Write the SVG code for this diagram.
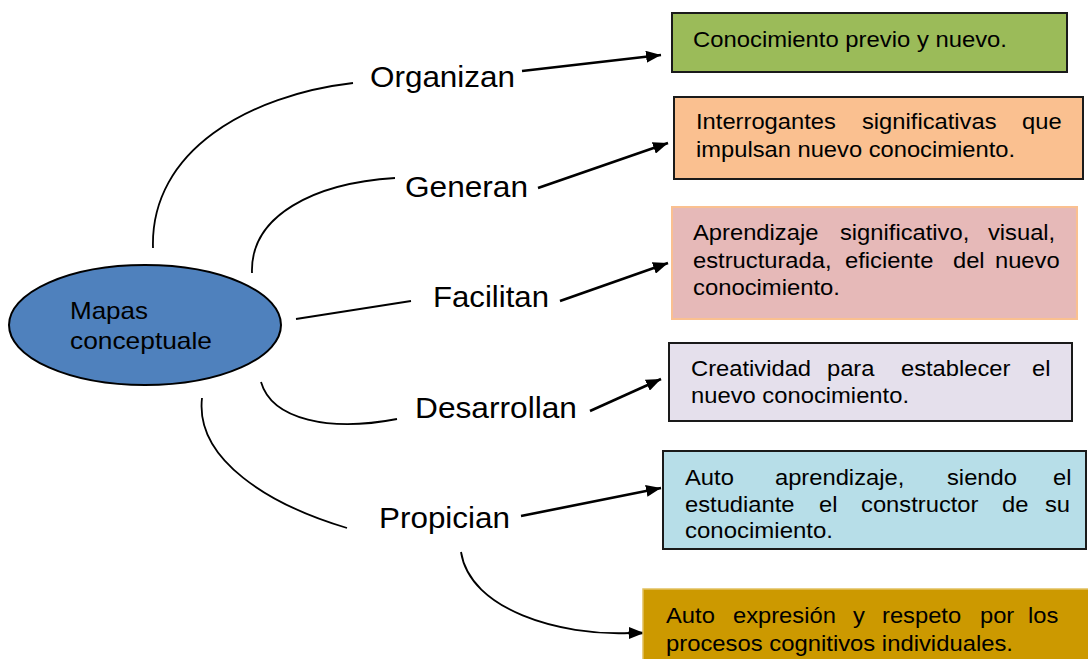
<svg xmlns="http://www.w3.org/2000/svg" width="1088" height="659" viewBox="0 0 1088 659">
<style>
.bg{fill:#ffffff}
.lbl{font-family:"Liberation Sans",Arial,sans-serif;font-size:30px;fill:#000}
.bt{font-family:"Liberation Sans",Arial,sans-serif;font-size:22px;fill:#000}
.ct{font-family:"Liberation Sans",Arial,sans-serif;font-size:24px;fill:#000}
.box{stroke:#1a1a1a;stroke-width:2}
.curve{fill:none;stroke:#000;stroke-width:1.8}
.arr{fill:none;stroke:#000;stroke-width:2.6;marker-end:url(#ah)}
</style>
<defs>
<marker id="ah" markerUnits="userSpaceOnUse" markerWidth="16" markerHeight="12" refX="15" refY="6" orient="auto">
<path d="M0,0 L15,6 L0,12 z" fill="#000"/>
</marker>
</defs>
<rect class="bg" x="0" y="0" width="1088" height="659"/>

<g id="connectors">
<path class="curve" d="M153,248 C150,150 250,95 353,83"/>
<path class="arr" d="M522,71 L661,55"/>
<path class="curve" d="M252,273 C250,215 315,183 395,178"/>
<path class="arr" d="M538,188 L668,143"/>
<path class="curve" d="M296,319 L411,301"/>
<path class="arr" d="M560,301 L668,263"/>
<path class="curve" d="M261,382 C272,420 330,432 397,419"/>
<path class="arr" d="M590,411 L661,379"/>
<path class="curve" d="M202,398 C195,460 270,505 347,528"/>
<path class="arr" d="M521,516 L661,488"/>
<path class="curve" d="M461,552 C470,610 560,636 630,633"/>
<path class="arr" d="M628,633 L644,633"/>
</g>

<g id="center">
<ellipse cx="145" cy="325" rx="136" ry="60" fill="#4F81BD" stroke="#000" stroke-width="2"/>
<text class="ct" x="70" y="319" textLength="78" lengthAdjust="spacingAndGlyphs">Mapas</text>
<text class="ct" x="70" y="349" textLength="142" lengthAdjust="spacingAndGlyphs">conceptuale</text>
</g>

<g id="lbl-organizan"><text class="lbl" x="370" y="87" textLength="145" lengthAdjust="spacingAndGlyphs">Organizan</text></g>
<g id="lbl-generan"><text class="lbl" x="405" y="197" textLength="123" lengthAdjust="spacingAndGlyphs">Generan</text></g>
<g id="lbl-facilitan"><text class="lbl" x="433" y="307" textLength="116" lengthAdjust="spacingAndGlyphs">Facilitan</text></g>
<g id="lbl-desarrollan"><text class="lbl" x="415" y="418" textLength="162" lengthAdjust="spacingAndGlyphs">Desarrollan</text></g>
<g id="lbl-propician"><text class="lbl" x="379" y="528" textLength="131" lengthAdjust="spacingAndGlyphs">Propician</text></g>

<g id="box1">
<rect class="box" x="672" y="13" width="395" height="59" fill="#9BBB59"/>
<text class="bt" x="693" y="47" textLength="314" lengthAdjust="spacingAndGlyphs">Conocimiento previo y nuevo.</text>
</g>

<g id="box2">
<rect class="box" x="674" y="97" width="409" height="82" fill="#FAC090"/>
<text class="bt" transform="translate(696,129) scale(1.08,1)"><tspan x="0">Interrogantes</tspan><tspan x="153.7">significativas</tspan><tspan x="301.9">que</tspan></text>
<text class="bt" x="696" y="157" textLength="319" lengthAdjust="spacingAndGlyphs">impulsan nuevo conocimiento.</text>
</g>

<g id="box3">
<rect x="672" y="207" width="405" height="112" fill="#E6B9B8" stroke="#FAC090" stroke-width="2"/>
<text class="bt" transform="translate(693,240) scale(1.08,1)"><tspan x="0">Aprendizaje</tspan><tspan x="136.1">significativo,</tspan><tspan x="273.1">visual,</tspan></text>
<text class="bt" transform="translate(693,268) scale(1.08,1)"><tspan x="0">estructurada,</tspan><tspan x="140.7">eficiente</tspan><tspan x="240.7">del</tspan><tspan x="279.6">nuevo</tspan></text>
<text class="bt" x="693" y="295" textLength="147" lengthAdjust="spacingAndGlyphs">conocimiento.</text>
</g>

<g id="box4">
<rect class="box" x="669" y="343" width="403" height="78" fill="#E5E0EC"/>
<text class="bt" transform="translate(691,376) scale(1.08,1)"><tspan x="0">Creatividad</tspan><tspan x="125.9">para</tspan><tspan x="194.4">establecer</tspan><tspan x="315.7">el</tspan></text>
<text class="bt" x="691" y="403" textLength="218" lengthAdjust="spacingAndGlyphs">nuevo conocimiento.</text>
</g>

<g id="box5">
<rect class="box" x="663" y="451" width="423" height="98" fill="#B7DEE8"/>
<text class="bt" transform="translate(685,485) scale(1.08,1)"><tspan x="0">Auto</tspan><tspan x="83.3">aprendizaje,</tspan><tspan x="242.6">siendo</tspan><tspan x="340.7">el</tspan></text>
<text class="bt" transform="translate(685,512) scale(1.08,1)"><tspan x="0">estudiante</tspan><tspan x="124.1">el</tspan><tspan x="163">constructor</tspan><tspan x="293.5">de</tspan><tspan x="333.3">su</tspan></text>
<text class="bt" x="685" y="538" textLength="148" lengthAdjust="spacingAndGlyphs">conocimiento.</text>
</g>

<g id="box6">
<rect x="643" y="589" width="447" height="80" fill="#CC9900" stroke="#E2C160" stroke-width="1.5"/>
<text class="bt" transform="translate(666,623) scale(1.08,1)"><tspan x="0">Auto</tspan><tspan x="62">expresión</tspan><tspan x="173.1">y</tspan><tspan x="200">respeto</tspan><tspan x="290.7">por</tspan><tspan x="335.2">los</tspan></text>
<text class="bt" x="666" y="651" textLength="347" lengthAdjust="spacingAndGlyphs">procesos cognitivos individuales.</text>
</g>
</svg>
